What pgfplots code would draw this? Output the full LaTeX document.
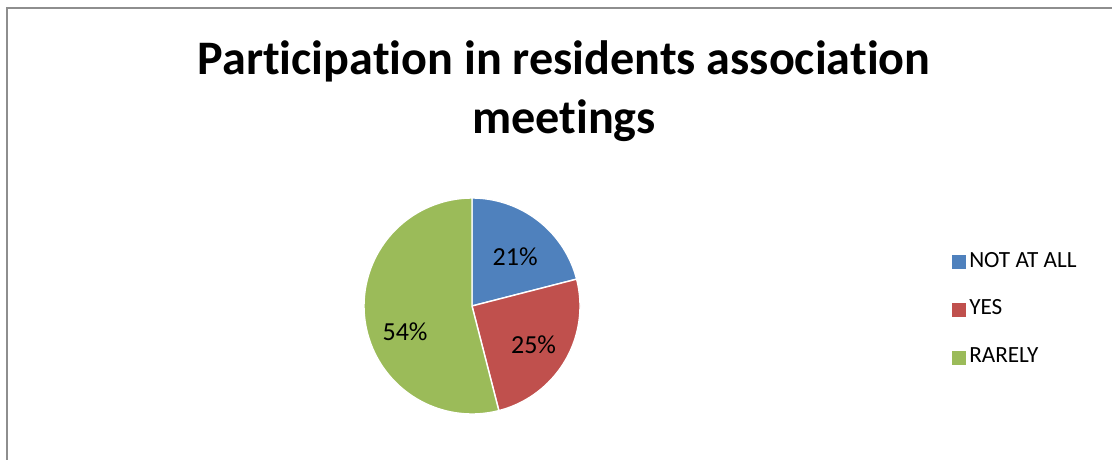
\documentclass[border=0pt]{standalone}
\usepackage{fontspec}
\setmainfont{Carlito}[RawFeature={-liga;-clig;-dlig;-calt}]
\usepackage{pgfplots}
\pgfplotsset{compat=1.18}

\definecolor{pieblue}{HTML}{4F81BD}
\definecolor{piered}{HTML}{C0504D}
\definecolor{piegreen}{HTML}{9BBB59}
\definecolor{framegray}{HTML}{8E8E8E}

% shares in percent: NOT AT ALL 21, YES 25, RARELY 54 (clockwise from 12 o'clock)
\begin{document}
\begin{tikzpicture}[x=1cm,y=1cm]
\useasboundingbox (0,0) rectangle (11.12,-4.59);
\draw[framegray, line width=0.02cm] (0.07,-4.7) -- (0.07,-0.08) -- (11.3,-0.08);

\node[anchor=base, font=\fontsize{13.7}{16}\selectfont\bfseries] at (5.64,-0.74)
  {Participation in residents association};
\node[anchor=base, font=\fontsize{13.7}{16}\selectfont\bfseries] at (5.64,-1.33)
  {meetings};

\begin{axis}[
    at={(4.72cm,-3.06cm)}, anchor=center,
    scale only axis,
    x=1.08cm, y=1.08cm,
    xmin=-1.1, xmax=1.1, ymin=-1.1, ymax=1.1,
    hide axis,
    legend style={
        at={(axis description cs:2.516,0.745)}, anchor=north west,
        draw=none, fill=none, inner sep=0pt,
        row sep=0.205cm,
        font=\fontsize{6.6}{8}\selectfont,
        nodes={inner sep=1pt},
    },
    legend cell align=left,
    legend image code/.code={\fill[#1, draw=none] (0cm,-0.07cm) rectangle (0.14cm,0.07cm);},
    every axis plot/.append style={draw=white, line width=0.4pt, samples=90},
]
\addplot[fill=pieblue, domain=90-3.6*21:90] ({cos(x)},{sin(x)}) -- (axis cs:0,0) -- cycle;
\addlegendentry{NOT AT ALL}
\addplot[fill=piered, domain=90-3.6*46:90-3.6*21] ({cos(x)},{sin(x)}) -- (axis cs:0,0) -- cycle;
\addlegendentry{YES}
\addplot[fill=piegreen, domain=90-3.6*100:90-3.6*46] ({cos(x)},{sin(x)}) -- (axis cs:0,0) -- cycle;
\addlegendentry{RARELY}

\node[font=\fontsize{7.4}{8}\selectfont] at (axis cs:0.40,0.46) {21\%};
\node[font=\fontsize{7.4}{8}\selectfont] at (axis cs:0.57,-0.36) {25\%};
\node[font=\fontsize{7.4}{8}\selectfont] at (axis cs:-0.62,-0.24) {54\%};
\end{axis}
\end{tikzpicture}
\end{document}
